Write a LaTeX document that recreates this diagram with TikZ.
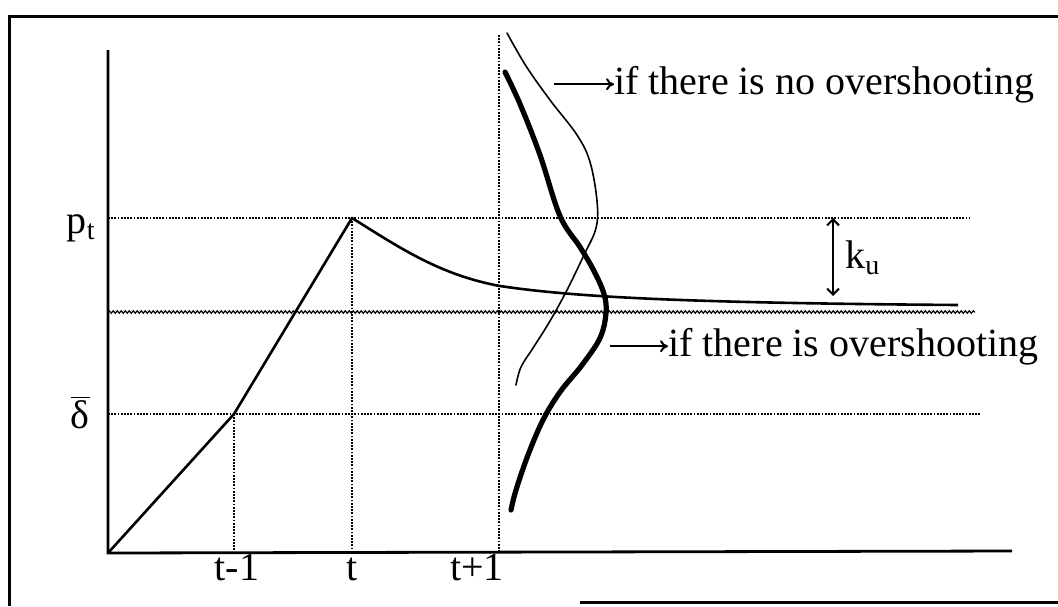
\documentclass[tikz,border=0pt]{standalone}
\usepackage{fontspec}
\setmainfont{Liberation Serif}
\usetikzlibrary{arrows.meta,decorations.pathmorphing}
\tikzset{
  frameline/.style={line width=1.5pt},
  axisline/.style={line width=1.4pt},
  gridline/.style={line width=0.9pt,dash pattern=on 0.9pt off 0.7pt},
  wavyline/.style={line width=0.6pt,decorate,decoration={snake,segment length=2pt,amplitude=0.6pt}},
  pathline/.style={line width=1.3pt,line join=round},
  thinbell/.style={line width=0.8pt,line cap=round},
  thickbell/.style={line width=2.6pt,line cap=round},
  lbl/.style={inner sep=0pt,font=\fontsize{20}{24}\selectfont},
  pointer/.style={line width=1pt,-{To[length=4pt,width=6pt]}},
}
\begin{document}
\begin{tikzpicture}[x=0.5pt,y=-0.5pt]
\useasboundingbox (0,0) rectangle (1058,606);
\def\xo{108}\def\yo{553}
\def\xa{234}\def\xb{352}\def\xc{499}
\def\yp{218}\def\ym{312}\def\yd{414}
\draw[frameline] (1058,16) -- (9,16) -- (9,606);
\draw[frameline] (580,602) -- (1058,602);
\coordinate (O) at (\xo,\yo);
\draw[axisline] (\xo,50) -- (O) -- (1012,551);
\draw[gridline] (\xo,\yp) -- (970,\yp);
\draw[wavyline] (\xo,\ym) -- (975,\ym);
\draw[gridline] (\xo,\yd) -- (980,\yd);
\draw[gridline] (\xa,\yd) -- (\xa,\yo);
\draw[gridline] (\xb,\yp) -- (\xb,\yo);
\draw[gridline] (\xc,35) -- (\xc,\yo);
\node[lbl,anchor=base east] (pt) at (96,233) {p\textsubscript{t}};
\node[lbl,anchor=base east] (dbar) at (90,428) {$\overline{\hbox{δ}}$};
\node[lbl,anchor=base] (tm) at (237,580) {t-1};
\node[lbl,anchor=base] (t0) at (\xb,580) {t};
\node[lbl,anchor=base] (tp) at (477,580) {t+1};
\draw[pathline] (O) -- (\xa,\yd) -- (\xb,\yp) .. controls (400,248) and (440,275) .. (500,286) .. controls (580,298) and (700,303) .. (958,305);
\draw[thinbell] plot[smooth,tension=.6] coordinates {(507,33) (526,66) (550,100) (577,135) (590,162) (597,201) (596,228) (584,255) (567,290) (550,321) (533,348) (521,367) (516,385)};
\draw[thickbell] plot[smooth,tension=.6] coordinates {(505,72) (520,104) (540,155) (560,216) (580,247) (594,271) (604,294) (606,313) (600,338) (582,365) (560,392) (543,420) (528,455) (516,490) (511,510)};
\coordinate (kt) at (833,\yp);
\coordinate (kb) at (833,296);
\draw[line width=1pt,{Straight Barb[length=3pt,width=6pt]}-{Straight Barb[length=3pt,width=6pt]}] (kt) -- (kb);
\node[lbl,anchor=base west] (ku) at (845,268) {k\textsubscript{u}};
\node[lbl,anchor=base west] (noover) at (614,94) {if there is no overshooting};
\node[lbl,anchor=base west] (over) at (668,356) {if there is overshooting};
\coordinate (a1) at ([xshift=-30pt]noover.west);
\coordinate (a2) at ([xshift=-29pt]over.west);
\draw[pointer] (a1) -- (noover.west);
\draw[pointer] (a2) -- (over.west);
\end{tikzpicture}
\end{document}
